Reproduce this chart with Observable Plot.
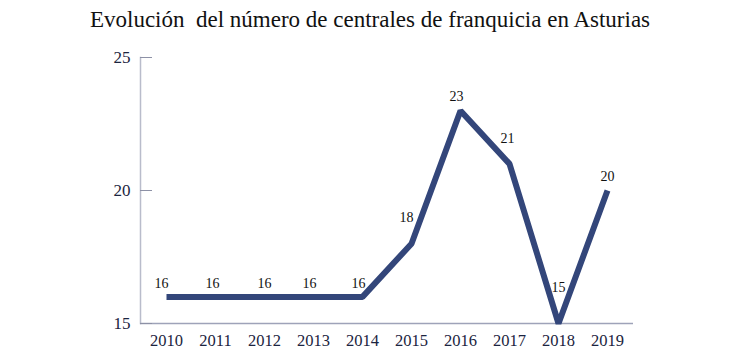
<!DOCTYPE html>
<html><head><meta charset="utf-8">
<script src="https://cdn.jsdelivr.net/npm/d3@7"></script>
<script src="https://cdn.jsdelivr.net/npm/@observablehq/plot@0.6"></script>
<style>
body{margin:0;background:#fff;}
#title{height:45px;width:740px;text-align:center;font-family:"Liberation Serif",serif;font-size:23px;line-height:40px;color:#111;white-space:pre;}
</style></head><body>
<div id="title">Evolución  del número de centrales de franquicia en Asturias</div>
<div id="chart"></div>
<script>
const years = ["2010","2011","2012","2013","2014","2015","2016","2017","2018","2019"];
const values = [16,16,16,16,16,18,23,21,15,20];
const yTicks = [15,20,25];
// label offsets (dx, dy) in px, matching the reference's placement
const labelDx = [-5,-3,0,-4,-4,-5,-4,-2,0,0];
const labelDy = [-13,-13,-13,-13,-13,-26,-14,-25,-36,-14];
const data = years.map((y,i)=>({year:y, value:values[i]}));
const navy = "#33467a";
const chart = Plot.plot({
  width:740, height:310,
  marginLeft:140, marginRight:107, marginTop:12, marginBottom:32,
  style:{fontFamily:"'Liberation Serif', serif", fontSize:"16px", background:"#fff"},
  x:{type:"point", domain:years, padding:0.5, label:null},
  y:{domain:[15,25], label:null},
  marks:[
    Plot.frame({anchor:"left", stroke:"#b9bccb", strokeWidth:1.5}),
    Plot.ruleY([15], {stroke:"#9ea3b9", strokeWidth:1.5}),
    Plot.axisY({ticks:yTicks, tickSize:-12, tickPadding:22, stroke:"#8d91a6", fontSize:17, fill:"#1b2440", label:null}),
    Plot.axisX({tickSize:0, tickPadding:11, fontSize:16.5, fill:"#1b2440", label:null}),
    Plot.line(data, {x:"year", y:"value", stroke:navy, strokeWidth:6, strokeLinecap:"butt", strokeLinejoin:"miter"}),
    ...data.map((d,i)=>Plot.text([d], {x:"year", y:"value", text:d=>String(d.value), dx:labelDx[i], dy:labelDy[i], fontSize:14, fill:"#111"}))
  ]
});
document.getElementById("chart").appendChild(chart);
</script></body></html>
